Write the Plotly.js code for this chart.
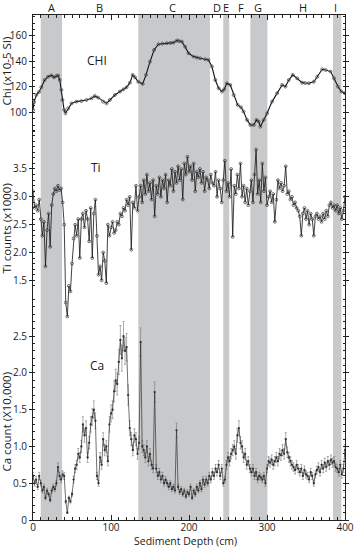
<!DOCTYPE html>
<html>
<head>
<meta charset="utf-8">
<script src="https://cdn.plot.ly/plotly-3.0.1.min.js"></script>
<style>html,body{margin:0;padding:0;background:#fff;}#chart{width:358px;height:550px;}</style>
</head>
<body>
<div id="chart"></div>
<script>
// ---- Zone bands (sediment depth, cm) ----
const zoneLabels = ["A","B","C","D","E","F","G","H","I"];
const zoneLabelDepth = [23.6,85.7,178.7,235.7,247.7,266.5,289,345.7,388];
const bandStart = [9.9,135,243.9,278.7,384.6];
const bandEnd   = [37.3,226.8,251.6,300.5,395.3];

// ---- Magnetic susceptibility (Chi, x10-5 SI) ----
const chiDepth = [0,1.3,4.3,7.7,10.7,15,19.3,23.6,27,30,32.2,34.3,36.4,37.7,39.9,41.6,45,49.3,55.7,62,68.6,75,79.3,83.6,90,94.3,98.6,105,111.5,116,120,124.3,127.8,130.8,135,140.6,144.9,150,155.2,160.8,166,171.5,176,180,184.4,187,190.8,195,199.4,205.8,210,214.4,220.8,225,229.4,233.7,238,242.2,245,248.5,252.9,257.2,262.4,266.7,270,274.4,278.7,283,286.4,289.4,291.5,295.8,300.1,306.5,313,319.4,323.7,328,333.1,338.7,345.1,349,353.7,360,364.4,370.8,375.1,381.6,385.9,391,395.3,400];
const chiValue = [101.8,108,113.6,116,119.7,125.4,128,129,127.5,128.6,129,125.4,117.6,109.7,101.8,99.2,103,107,108.4,108.8,109.7,111,112.8,111.5,108.4,107,109.7,113.6,116.3,118,119.7,123.3,129.4,127.5,124,122.3,129.4,139.8,149,153.5,154,154.3,154.5,154.8,156.4,156,155.6,151.6,146.4,143.8,143,142.5,141.7,141.2,136,125.4,118.9,116.3,118,122.8,121.5,113.6,105.8,103.9,100.5,94,90,90,94,92.7,88.7,94,99.2,108.4,115,121.5,120.2,125.4,129.4,126.7,123.3,123,122.8,124,128,133.8,133.3,132,126.7,120.2,116.3,115];

// ---- XRF scan depths (cm) ----
const xrfDepth = [0,2,4,6,8,10,12,14,16,18,20,22,24,26,28,30,32,34,36,38,40,42,44,46,48,50,52,54,56,58,60,62,64,66,68,70,72,74,76,78,80,82,84,86,88,90,92,94,96,98,100,102,104,106,108,110,112,114,116,118,120,122,124,126,128,130,132,134,136,138,140,142,144,146,148,150,152,154,156,158,160,162,164,166,168,170,172,174,176,178,180,182,184,186,188,190,192,194,196,198,200,202,204,206,208,210,212,214,216,218,220,222,224,226,228,230,232,234,236,238,240,242,244,246,248,250,252,254,256,258,260,262,264,266,268,270,272,274,276,278,280,282,284,286,288,290,292,294,296,298,300,302,304,306,308,310,312,314,316,318,320,322,324,326,328,330,332,334,336,338,340,342,344,346,348,350,352,354,356,358,360,362,364,366,368,370,372,374,376,378,380,382,384,386,388,390,392,394,396,398,400];

// ---- Ti counts (x1000) ----
const tiValue = [3.1,2.8,2.85,2.75,2.95,2.6,2.3,2.55,1.75,2.4,2.7,2.1,2.85,3.05,3.15,3.1,3.2,3.12,3.15,2.9,2.5,1.1,0.85,1.4,1.3,1.8,2.25,2.5,2.3,2.6,1.9,2.6,2.7,2.45,2.75,2.6,2.2,2.8,1.9,2.7,2.95,2.3,1.6,1.75,1.5,2.0,1.85,1.45,2.5,2.3,2.45,2.55,2.35,2.4,2.55,2.5,2.7,2.65,2.8,2.75,2.95,2.85,3.0,2.05,2.9,2.8,3.2,2.75,3.0,3.2,2.9,3.3,3.05,3.4,3.1,3.25,2.95,3.3,2.65,3.2,3.05,3.35,3.0,3.3,3.15,3.4,2.9,3.3,3.2,3.5,3.1,3.45,3.25,3.55,3.3,3.5,2.95,3.6,3.4,3.72,3.45,3.55,3.3,3.6,3.1,3.45,3.35,3.5,3.25,3.45,3.1,3.35,3.3,3.15,3.4,3.25,3.2,3.45,3.0,3.3,3.15,2.9,3.3,3.65,3.1,3.25,3.0,3.5,2.28,3.2,3.05,3.4,3.15,3.6,3.0,3.2,2.9,3.15,2.85,3.1,3.3,2.9,3.4,3.85,3.05,3.3,2.9,3.6,3.1,3.35,2.85,3.0,3.1,2.9,3.05,2.55,2.95,3.3,3.15,3.25,3.1,3.2,3.55,3.05,3.1,2.95,3.0,2.85,2.9,2.8,2.75,2.65,2.3,2.7,2.8,2.6,2.75,2.5,2.7,2.6,2.3,2.65,2.7,2.6,2.65,2.55,2.7,2.6,2.75,2.65,2.85,2.9,2.8,2.85,2.75,2.85,2.7,2.8,2.6,2.75,3.0];

// ---- Ca counts (x10,000) ----
const caValue = [0.6,0.5,0.55,0.45,0.6,0.5,0.4,0.45,0.3,0.4,0.35,0.27,0.4,0.45,0.42,0.5,0.72,0.6,0.55,0.62,0.6,0.25,0.1,0.3,0.25,0.35,0.55,0.7,0.75,0.9,0.85,1.0,1.3,1.15,1.25,0.85,1.05,1.3,1.4,1.5,1.35,0.6,0.5,0.85,0.75,1.1,0.95,1.0,0.8,1.3,1.45,1.5,1.75,1.9,1.85,2.15,2.45,2.2,2.5,2.3,2.35,1.7,1.25,1.1,0.95,1.15,1.1,0.9,1.05,2.42,1.0,0.95,0.85,1.0,0.8,0.9,0.75,0.7,1.74,0.7,0.6,0.65,0.55,0.6,0.5,0.55,0.5,0.45,0.5,0.42,0.45,0.4,1.22,0.45,0.38,0.42,0.35,0.4,0.32,0.38,0.35,0.45,0.3,0.4,0.35,0.45,0.4,0.5,0.42,0.55,0.48,0.55,0.5,0.6,0.55,0.65,0.6,0.7,0.65,0.75,0.6,0.7,0.5,0.55,0.75,0.85,0.8,0.9,0.95,1.0,0.9,1.15,1.25,1.05,1.0,0.85,0.9,0.75,0.8,0.7,0.65,0.7,0.6,0.65,0.55,0.6,0.58,0.55,0.6,0.5,0.7,0.8,0.78,0.82,0.75,0.8,0.85,0.8,0.9,0.88,0.95,0.9,1.1,0.92,0.85,0.8,0.75,0.72,0.68,0.75,0.7,0.65,0.7,0.6,0.68,0.62,0.6,0.55,0.65,0.6,0.5,0.62,0.68,0.72,0.65,0.75,0.7,0.78,0.72,0.8,0.75,0.82,0.78,0.8,0.72,0.7,0.65,0.75,0.62,0.7,0.95];

// ---- axis tick labels ----
const xTicks = [0,100,200,300,400];
const chiTicks = [100,120,140,160];
const tiTicks = [1.5,2.0,2.5,3.0,3.5,4.0];
const tiTickText = ["1.5","2.0","2.5","3.0","3.5",""];
const caTicks = [0,0.5,1.0,1.5,2.0,2.5,3.0];
const caTickText = ["0","0.5","1.0","1.5","2.0","2.5",""];

function steps(a, b, d) { const o = []; for (let v = a; v <= b + 1e-9; v += d) o.push(+v.toFixed(3)); return o; }

const FONT = "Open Sans, Noto Sans, sans-serif";
const TXT = '#1a1a1a';

const traces = [
  { x: chiDepth, y: chiValue, xaxis: 'x', yaxis: 'y3', mode: 'lines+markers', type: 'scatter',
    line: { color: '#111', width: 1.1 },
    marker: { symbol: 'circle-open', size: 3, color: '#444', line: { width: 0.7 } }, hoverinfo: 'skip' },
  { x: xrfDepth, y: tiValue, xaxis: 'x', yaxis: 'y2', mode: 'lines+markers', type: 'scatter',
    line: { color: '#111', width: 0.8 },
    marker: { symbol: 'circle-open', size: 2.8, color: '#333', line: { width: 0.7 } }, hoverinfo: 'skip' },
  { x: xrfDepth, y: caValue, xaxis: 'x', yaxis: 'y', mode: 'lines+markers', type: 'scatter',
    line: { color: '#333', width: 0.7 },
    marker: { symbol: 'circle', size: 2.3, color: '#333' },
    error_y: { type: 'percent', value: 8, thickness: 0.6, width: 1, color: '#777' }, hoverinfo: 'skip' }
];

const shapes = bandStart.map((s, i) => ({
  type: 'rect', xref: 'x', yref: 'paper', x0: s, x1: bandEnd[i], y0: 0, y1: 1,
  fillcolor: '#c8c9cb', line: { width: 0 }, layer: 'below'
}));

const annotations = zoneLabels.map((t, i) => ({
  text: t, x: zoneLabelDepth[i], xref: 'x', y: 1.015, yref: 'paper', yanchor: 'middle',
  showarrow: false, font: { family: FONT, size: 11, color: TXT }
}));
annotations.push(
  { text: 'CHI', x: 81.5, y: 141, xref: 'x', yref: 'y3', showarrow: false, font: { family: FONT, size: 12, color: TXT } },
  { text: 'Ti', x: 80.2, y: 3.52, xref: 'x', yref: 'y2', showarrow: false, font: { family: FONT, size: 12, color: TXT } },
  { text: 'Ca', x: 81.5, y: 2.1, xref: 'x', yref: 'y', showarrow: false, font: { family: FONT, size: 12, color: TXT } },
  { text: 'Chi (x10-5 SI)', x: -0.085, y: 0.889, xref: 'paper', yref: 'paper', xanchor: 'center', yanchor: 'middle', textangle: -90, showarrow: false, font: { family: FONT, size: 11.5, color: TXT } },
  { text: 'Ti counts (x1000)', x: -0.085, y: 0.578, xref: 'paper', yref: 'paper', xanchor: 'center', yanchor: 'middle', textangle: -90, showarrow: false, font: { family: FONT, size: 11.5, color: TXT } },
  { text: 'Ca count (X10,000)', x: -0.085, y: 0.196, xref: 'paper', yref: 'paper', xanchor: 'center', yanchor: 'middle', textangle: -90, showarrow: false, font: { family: FONT, size: 11.5, color: TXT } },
  { text: 'Sediment Depth (cm)', x: 0.49, y: -0.0594, xref: 'paper', yref: 'paper', xanchor: 'center', yanchor: 'bottom', showarrow: false, font: { family: FONT, size: 10.5, color: TXT } }
);

const yBase = {
  showgrid: false, zeroline: false, showline: true, linecolor: '#222', linewidth: 1,
  mirror: 'ticks', ticks: 'outside', ticklen: 3, tickcolor: '#222', tickmode: 'array',
  tickfont: { family: FONT, size: 10, color: TXT }, domain: [0, 1], anchor: 'x', fixedrange: true
};

const layout = {
  width: 358, height: 550,
  margin: { l: 33, r: 13, t: 15, b: 30 },
  paper_bgcolor: '#fff', plot_bgcolor: 'rgba(0,0,0,0)',
  showlegend: false,
  xaxis: {
    range: [0, 400], domain: [0, 1], anchor: 'y', showgrid: false, zeroline: false,
    showline: true, linecolor: '#222', linewidth: 1, mirror: 'ticks',
    ticks: 'inside', ticklen: 5, tickcolor: '#222', tickmode: 'array', tickvals: xTicks,
    ticklabelstandoff: -2,
    tickfont: { family: FONT, size: 10, color: TXT },
    minor: { dtick: 10, tick0: 0, ticks: 'inside', ticklen: 3, tickcolor: '#222', showgrid: false }
  },
  yaxis: Object.assign({}, yBase, {
    range: [0, 6.87], tickvals: caTicks, ticktext: caTickText,
    minor: { tickmode: 'array', tickvals: steps(0, 3.0, 0.1), ticks: 'inside', ticklen: 2, tickcolor: '#222', showgrid: false }
  }),
  yaxis2: Object.assign({}, yBase, {
    overlaying: 'y', side: 'left', range: [-2.807, 6.267], tickvals: tiTicks, ticktext: tiTickText,
    minor: { tickmode: 'array', tickvals: steps(1.4, 4.2, 0.1), ticks: 'inside', ticklen: 2, tickcolor: '#222', showgrid: false }
  }),
  yaxis3: Object.assign({}, yBase, {
    overlaying: 'y', side: 'left', range: [-220.6, 176.5], tickvals: chiTicks,
    minor: { tickmode: 'array', tickvals: steps(85, 175, 5), ticks: 'inside', ticklen: 2, tickcolor: '#222', showgrid: false }
  }),
  shapes: shapes,
  annotations: annotations
};

Plotly.newPlot('chart', traces, layout, { displayModeBar: false, staticPlot: true });
</script>
</body>
</html>
